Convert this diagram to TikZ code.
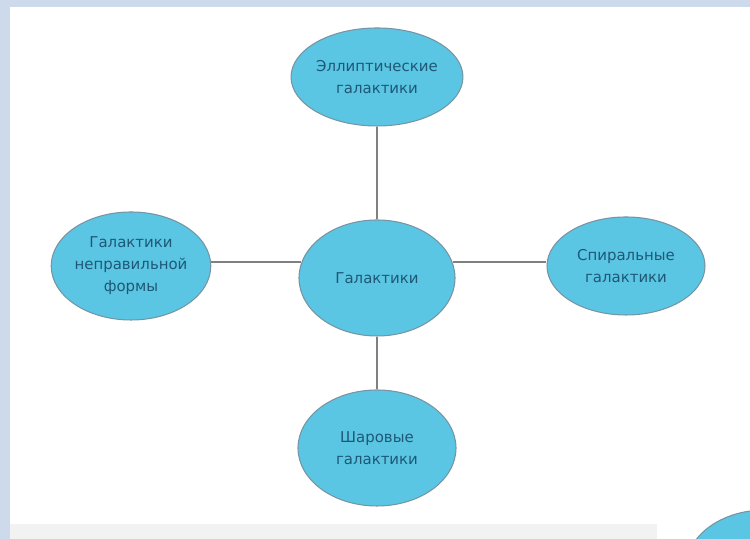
\documentclass[tikz,border=0pt]{standalone}
\usepackage{fontspec}
\setmainfont{DejaVu Sans}
\usepackage{tikz}
\usetikzlibrary{shapes.geometric}
\definecolor{colorframe}{RGB}{204,218,236}
\definecolor{colorfill} {RGB}{ 91,198,227}
\definecolor{colordraw} {RGB}{118,148,164}
\definecolor{colortext} {RGB}{ 30, 88,118}
\definecolor{colorline} {RGB}{128,128,128}
\definecolor{colorstrip}{RGB}{242,242,242}

\begin{document}
\begin{tikzpicture}[
    font={\fontsize{8.5}{12.5}\selectfont},
    galaxy/.style={ellipse,fill=colorfill,draw=colordraw,line width=0.6pt,text=colortext,align=center,inner sep=0pt},
    link/.style={line width=0.7pt,color=colorline}
]

    \clip (0, 0) rectangle (15, 10.78);
    \fill[colorframe] (0, 0) rectangle (15, 10.78);
    \fill[white] (0.2, 0) rectangle (15, 10.64);
    \fill[colorstrip] (0.2, 0) rectangle (13.14, 0.3);

    \node[galaxy,minimum width=3.0cm,minimum height=1.96cm] (top) at (7.54, 9.24) {Эллиптические\\галактики};
    \node[galaxy,minimum width=3.12cm,minimum height=2.32cm] (center) at (7.54, 5.22) {Галактики};
    \node[galaxy,minimum width=3.14cm,minimum height=2.16cm] (left) at (2.62, 5.46) {Галактики\\неправильной\\формы};
    \node[galaxy,minimum width=3.16cm,minimum height=1.96cm] (right) at (12.52, 5.46) {Спиральные\\галактики};
    \node[galaxy,minimum width=3.16cm,minimum height=2.32cm] (bottom) at (7.54, 1.82) {Шаровые\\галактики};
    \node[galaxy,minimum width=3.16cm,minimum height=2.32cm] (corner) at (15.3, -0.58) {};

    \draw[link] (top.south) -- (center.north);
    \draw[link] (center.south) -- (bottom.north);
    \draw[link] (left.east |- center.168) -- (center.168);
    \draw[link] (center.12) -- (right.west |- center.12);

\end{tikzpicture}
\end{document}
